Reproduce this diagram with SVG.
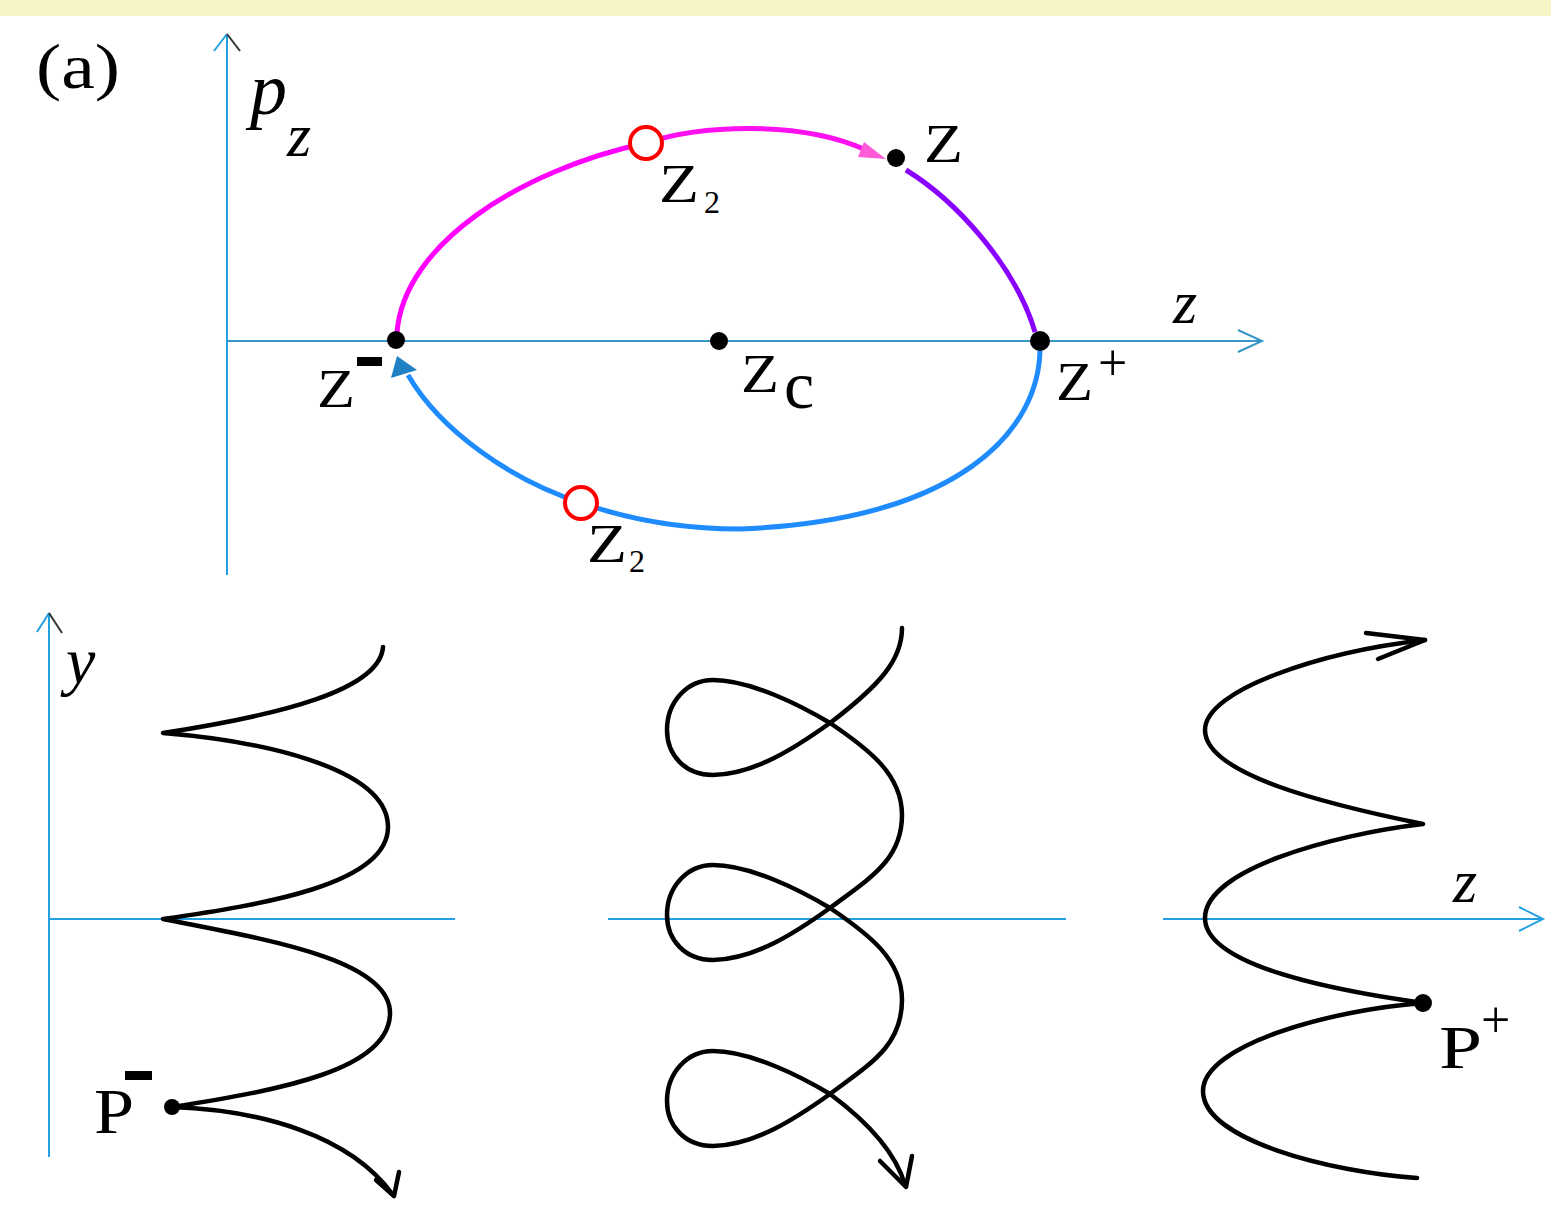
<svg xmlns="http://www.w3.org/2000/svg" width="1551" height="1207" viewBox="0 0 1551 1207">
<style>
.ax{stroke:#22a0e2;stroke-width:2;fill:none}
.axh{stroke:#3696c6;stroke-width:2;fill:none}
.tr{stroke:#000;stroke-width:4.5;fill:none;stroke-linecap:round;stroke-linejoin:round}
.lb{font-family:"Liberation Serif","Times New Roman",serif;fill:#000}
.it{font-family:"Liberation Serif","Times New Roman",serif;font-style:italic;fill:#000}
.dot{fill:#000}
.ring{fill:#fff;stroke:#ff0000;stroke-width:4}
</style>
<rect x="0" y="0" width="1551" height="1207" fill="#fff"/>
<rect x="0" y="0" width="1551" height="16" fill="#f7f5c6"/>

<g id="panel-label"><text class="lb" x="36" y="88" font-size="64" textLength="84" lengthAdjust="spacingAndGlyphs">(a)</text></g>

<g id="axes">
  <line class="ax" x1="227" y1="575" x2="227" y2="34"/>
  <path d="M214,51 L227,34" stroke="#22a0e2" stroke-width="2" fill="none"/>
  <path d="M227,34 L240,51" stroke="#333" stroke-width="2" fill="none"/>
  <line class="axh" x1="227" y1="341" x2="1262" y2="341"/>
  <path class="axh" d="M1238,330 L1262,341 L1238,352"/>
  <line class="ax" x1="49" y1="1157" x2="49" y2="613"/>
  <path d="M37,632 L49,613" stroke="#22a0e2" stroke-width="2" fill="none"/>
  <path d="M49,613 L62,633" stroke="#333" stroke-width="2" fill="none"/>
  <line class="ax" x1="49" y1="919" x2="455" y2="919"/>
  <line class="ax" x1="608" y1="919" x2="1066" y2="919"/>
  <line class="ax" x1="1163" y1="919" x2="1543" y2="919"/>
  <path class="ax" d="M1519,907 L1543,919 L1519,931"/>
</g>

<g id="axis-labels">
  <text class="it" x="250" y="114" font-size="74">p</text>
  <text class="it" x="287" y="156" font-size="62">z</text>
  <text class="it" x="1173" y="323" font-size="62">z</text>
  <text class="it" x="66" y="683" font-size="66">y</text>
  <text class="it" x="1453" y="902" font-size="62">z</text>
</g>

<g id="connectors">
  <path d="M397,333 C 403,245 520,170 646,143" stroke="#ff00ff" stroke-width="5" fill="none"/>
  <path d="M646,143 C 700,125 800,120 866,150" stroke="#ff10f0" stroke-width="5" fill="none"/>
  <polygon points="886,159 858,157 864,142" fill="#ff5ad8"/>
  <path d="M906,170 C 955,200 1015,265 1035,332" stroke="#8a00ff" stroke-width="5" fill="none"/>
  <path d="M1040,348 C 1040,430 960,520 740,529 C 680,529 630,520 582,503 C 510,480 440,430 408,375" stroke="#1e8cff" stroke-width="5" fill="none"/>
  <polygon points="397,356 391,378 417,370" fill="#1f80c4"/>

  <path class="tr" d="M383,647 C 380,690 280,715 163,733 C 250,740 388,765 388,827 C 388,885 260,905 163,919 C 270,940 390,960 390,1013 C 390,1070 280,1090 172,1107 C 260,1110 350,1135 393,1195"/>
  <path class="tr" d="M376,1180 L394,1196 L399,1172"/>

  <path class="tr" d="M902,628 C 902,660 880,685 830,723 C 795,748 755,774 713,775 C 685,775 667,755 667,730 C 667,702 687,680 713,680 C 750,680 800,705 830,723 C 870,750 902,775 902,815 C 902,860 870,878 830,908 C 795,933 755,959 713,960 C 685,960 667,940 667,915 C 667,887 687,865 713,865 C 750,865 800,890 830,908 C 870,935 902,960 902,1000 C 902,1046 870,1064 830,1094 C 795,1119 755,1145 713,1146 C 685,1146 667,1126 667,1101 C 667,1073 687,1051 713,1051 C 750,1051 800,1076 830,1094 C 865,1120 895,1150 905,1185"/>
  <path class="tr" d="M880,1161 L906,1187 L912,1156"/>

  <path class="tr" d="M1425,640 C 1320,652 1205,690 1205,730 C 1205,775 1330,805 1423,824 C 1330,835 1205,870 1205,918 C 1205,965 1330,990 1423,1003 C 1330,1010 1203,1045 1203,1091 C 1203,1140 1330,1172 1417,1178"/>
  <path class="tr" d="M1366,633 L1425,640 L1378,659"/>
</g>

<g id="node-zminus">
  <circle class="dot" cx="396" cy="340" r="9"/>
  <text class="lb" x="317" y="407" font-size="54" textLength="38" lengthAdjust="spacingAndGlyphs">Z</text>
  <rect x="357" y="357" width="25" height="9" fill="#000"/>
</g>
<g id="node-zc">
  <circle class="dot" cx="719" cy="341" r="9"/>
  <text class="lb" x="741" y="392" font-size="54" textLength="38" lengthAdjust="spacingAndGlyphs">Z</text>
  <text class="lb" x="784" y="408" font-size="68">c</text>
</g>
<g id="node-zplus">
  <circle class="dot" cx="1040" cy="341" r="10"/>
  <text class="lb" x="1056" y="400" font-size="54" textLength="37" lengthAdjust="spacingAndGlyphs">Z</text>
  <text class="lb" x="1098" y="380" font-size="52">+</text>
</g>
<g id="node-z">
  <circle class="dot" cx="896" cy="158" r="9"/>
  <text class="lb" x="924" y="162" font-size="54" textLength="39" lengthAdjust="spacingAndGlyphs">Z</text>
</g>
<g id="node-z2-top">
  <circle class="ring" cx="646" cy="143" r="16"/>
  <text class="lb" x="659" y="202" font-size="54" textLength="40" lengthAdjust="spacingAndGlyphs">Z</text>
  <text class="lb" x="704" y="213" font-size="32">2</text>
</g>
<g id="node-z2-bottom">
  <circle class="ring" cx="581" cy="503" r="16"/>
  <text class="lb" x="587" y="562" font-size="54" textLength="40" lengthAdjust="spacingAndGlyphs">Z</text>
  <text class="lb" x="629" y="572" font-size="32">2</text>
</g>
<g id="node-pminus">
  <circle class="dot" cx="172" cy="1107" r="8"/>
  <text class="lb" x="94" y="1133" font-size="64" textLength="40" lengthAdjust="spacingAndGlyphs">P</text>
  <rect x="125" y="1071" width="27" height="9" fill="#000"/>
</g>
<g id="node-pplus">
  <circle class="dot" cx="1423" cy="1003" r="9"/>
  <text class="lb" x="1439" y="1068" font-size="62" textLength="43" lengthAdjust="spacingAndGlyphs">P</text>
  <text class="lb" x="1481" y="1037" font-size="52">+</text>
</g>
</svg>
